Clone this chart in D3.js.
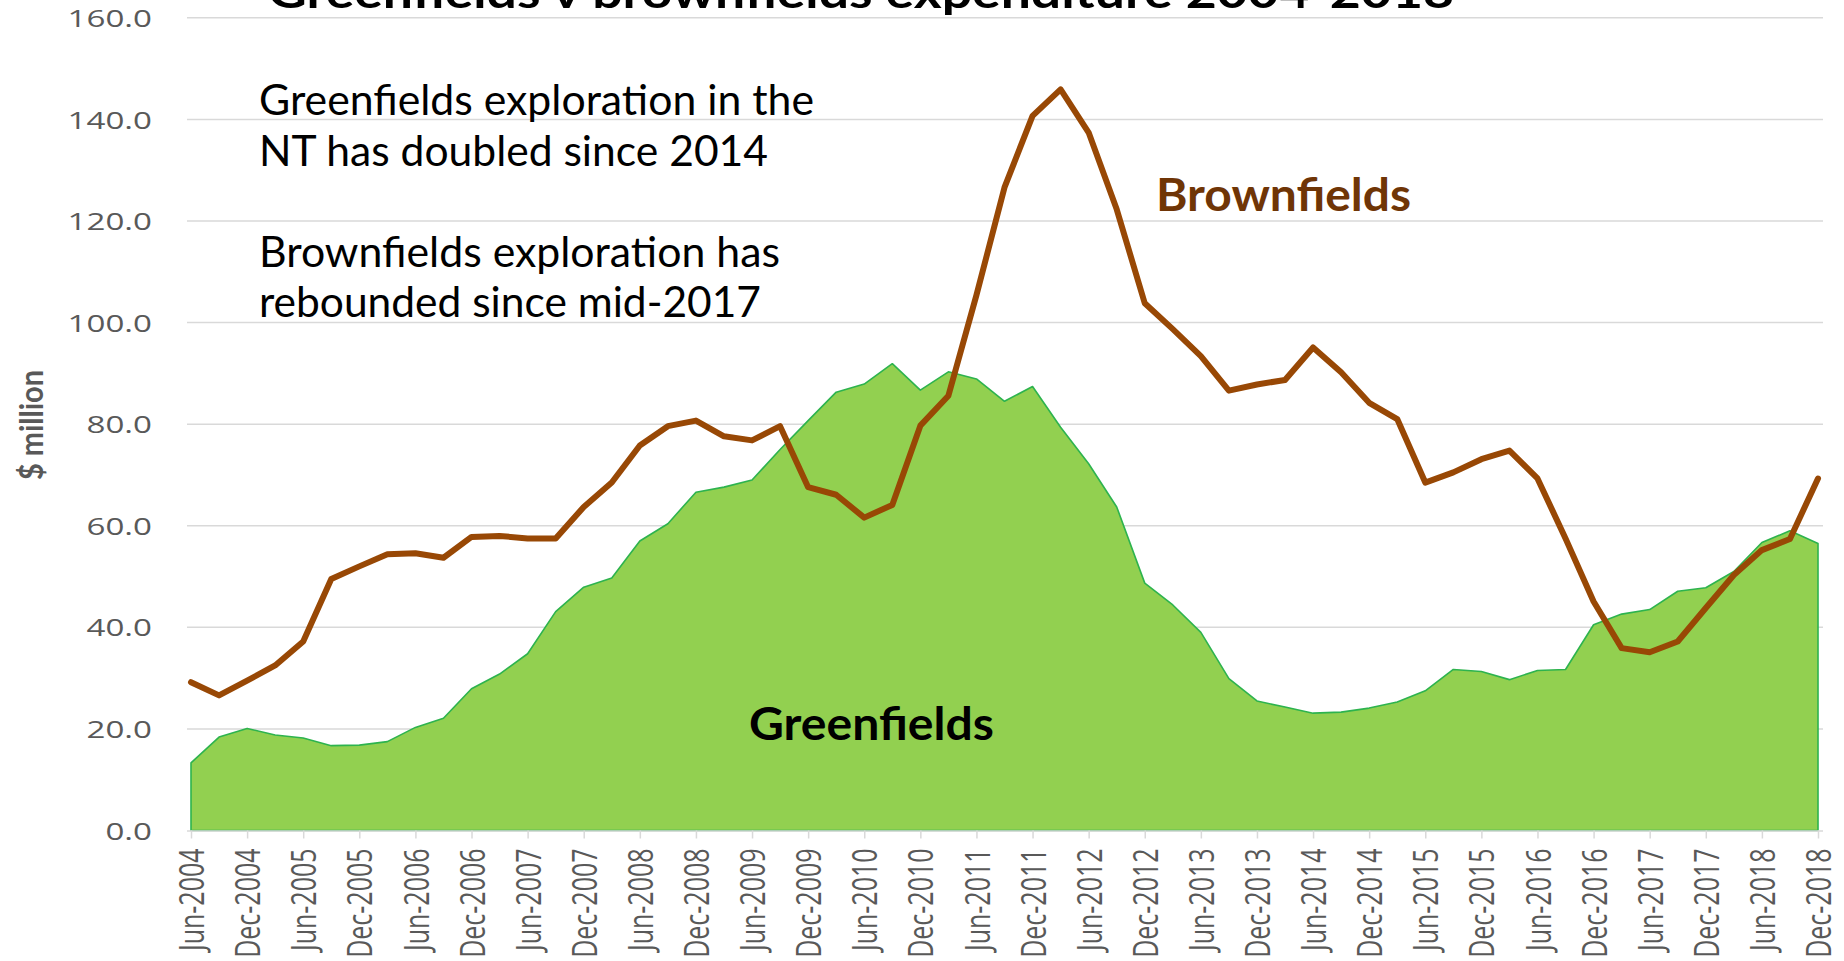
<!DOCTYPE html>
<html>
<head>
<meta charset="utf-8">
<script src="https://cdn.jsdelivr.net/npm/d3@7"></script>
<style>
  html, body { margin: 0; padding: 0; background: #ffffff; }
  svg { display: block; }
</style>
</head>
<body>
<script>
// ---------------- DATA ----------------
const quarters = ["Jun-2004","Sep-2004","Dec-2004","Mar-2005","Jun-2005","Sep-2005","Dec-2005","Mar-2006","Jun-2006","Sep-2006","Dec-2006","Mar-2007","Jun-2007","Sep-2007","Dec-2007","Mar-2008","Jun-2008","Sep-2008","Dec-2008","Mar-2009","Jun-2009","Sep-2009","Dec-2009","Mar-2010","Jun-2010","Sep-2010","Dec-2010","Mar-2011","Jun-2011","Sep-2011","Dec-2011","Mar-2012","Jun-2012","Sep-2012","Dec-2012","Mar-2013","Jun-2013","Sep-2013","Dec-2013","Mar-2014","Jun-2014","Sep-2014","Dec-2014","Mar-2015","Jun-2015","Sep-2015","Dec-2015","Mar-2016","Jun-2016","Sep-2016","Dec-2016","Mar-2017","Jun-2017","Sep-2017","Dec-2017","Mar-2018","Jun-2018","Sep-2018","Dec-2018"];

const greenfields = [13.3,18.4,20.1,18.8,18.2,16.7,16.8,17.5,20.3,22.1,27.9,30.8,34.8,43.1,47.9,49.7,57.0,60.4,66.6,67.6,69.0,75.0,80.7,86.3,87.9,91.9,86.7,90.3,88.9,84.5,87.4,79.4,72.2,63.7,48.7,44.4,39.0,29.9,25.5,24.3,23.1,23.3,24.1,25.3,27.5,31.7,31.3,29.7,31.5,31.7,40.5,42.6,43.5,47.1,47.8,51.0,56.7,59.0,56.5];

const brownfields = [29.2,26.6,29.5,32.5,37.2,49.5,52.0,54.4,54.6,53.7,57.8,58.0,57.5,57.5,63.7,68.5,75.8,79.6,80.7,77.6,76.8,79.6,67.6,66.1,61.6,64.1,79.7,85.6,105.4,126.6,140.7,145.9,137.4,122.3,103.8,98.7,93.4,86.6,87.8,88.7,95.1,90.2,84.2,81.0,68.5,70.5,73.1,74.8,69.3,57.5,45.1,35.9,35.1,37.2,43.8,50.3,55.2,57.4,69.3];

const xTickLabels = ["Jun-2004","Dec-2004","Jun-2005","Dec-2005","Jun-2006","Dec-2006","Jun-2007","Dec-2007","Jun-2008","Dec-2008","Jun-2009","Dec-2009","Jun-2010","Dec-2010","Jun-2011","Dec-2011","Jun-2012","Dec-2012","Jun-2013","Dec-2013","Jun-2014","Dec-2014","Jun-2015","Dec-2015","Jun-2016","Dec-2016","Jun-2017","Dec-2017","Jun-2018","Dec-2018"];

const yTicks = [0, 20, 40, 60, 80, 100, 120, 140, 160];

const titleText = "Greenfields v brownfields expenditure 2004-2018";
const yAxisTitle = "$ million";
const noteLines = ["Greenfields exploration in the", "NT has doubled since 2014", "Brownfields exploration has", "rebounded since mid-2017"];
const seriesLabels = ["Greenfields", "Brownfields"];

// ---------------- LAYOUT ----------------
const W = 1844, H = 961;
const gridLeft = 187, gridRight = 1823;

const svg = d3.select("body").append("svg")
  .attr("width", W).attr("height", H)
  .style("background", "#ffffff");

const x = d3.scalePoint().domain(quarters).range([191, 1818]);
const y = d3.scaleLinear().domain([0, 160]).range([830.5, 17.8]);

// gridlines
svg.append("g").selectAll("line")
  .data(yTicks.filter(d => d > 0))
  .join("line")
  .attr("x1", gridLeft).attr("x2", gridRight)
  .attr("y1", d => y(d)).attr("y2", d => y(d))
  .attr("stroke", "#d9d9d9").attr("stroke-width", 1.5);

// title (partially cut off at the top, as in the original)
svg.append("text")
  .attr("x", 268).attr("y", 8)
  .attr("textLength", 1186).attr("lengthAdjust", "spacingAndGlyphs")
  .style("font-family", "Lato, 'Open Sans', sans-serif")
  .style("font-weight", "700").style("font-size", "44px")
  .attr("fill", "#000")
  .text(titleText);

// greenfields area
const area = d3.area()
  .x((d, i) => x(quarters[i]))
  .y0(y(0))
  .y1(d => y(d));
svg.append("path")
  .datum(greenfields)
  .attr("d", area)
  .attr("fill", "#92d050")
  .attr("stroke", "#2db34e")
  .attr("stroke-width", 1.6)
  .attr("stroke-linejoin", "round");

// brownfields line
const line = d3.line()
  .x((d, i) => x(quarters[i]))
  .y(d => y(d));
svg.append("path")
  .datum(brownfields)
  .attr("d", line)
  .attr("fill", "none")
  .attr("stroke", "#984805")
  .attr("stroke-width", 6)
  .attr("stroke-linejoin", "round")
  .attr("stroke-linecap", "round");

// x axis
const gx = svg.append("g").attr("transform", `translate(0,${y(0)})`)
  .call(d3.axisBottom(x).tickValues(xTickLabels).tickSize(8).tickSizeOuter(0));
gx.select(".domain").attr("stroke", "#d9d9d9").attr("stroke-width", 1.5)
  .attr("d", `M${gridLeft},0.5H${gridRight}`);
gx.selectAll(".tick line").attr("stroke", "#d9d9d9").attr("stroke-width", 1.5);
gx.selectAll(".tick text")
  .attr("x", -18).attr("y", 0).attr("dy", "0.36em")
  .attr("text-anchor", "end")
  .attr("transform", "rotate(-90) scale(1,1.4)")
  .attr("fill", "#595959")
  .style("font-family", "'Open Sans', sans-serif")
  .style("font-size", "25px");

// y axis
const gy = svg.append("g").attr("transform", `translate(${gridLeft},0)`)
  .call(d3.axisLeft(y).tickValues(yTicks).tickSize(0).tickFormat(d3.format(".1f")));
gy.select(".domain").remove();
gy.selectAll(".tick text")
  .attr("x", 0).attr("dy", "0.36em")
  .attr("text-anchor", "end")
  .attr("transform", "translate(-35,0) scale(1.38,1)")
  .attr("fill", "#595959")
  .style("font-family", "'Open Sans', sans-serif")
  .style("font-size", "24px");

// y axis title
svg.append("text")
  .attr("transform", "translate(32,425) rotate(-90) scale(1,1.35)")
  .attr("text-anchor", "middle").attr("dy", "0.35em")
  .attr("textLength", 110).attr("lengthAdjust", "spacingAndGlyphs")
  .attr("fill", "#595959")
  .style("font-family", "Lato, sans-serif")
  .style("font-weight", "700").style("font-size", "24px")
  .text(yAxisTitle);

// annotation text
const noteY = [115, 166, 267, 317];
const noteLen = [555, 509, 521, 502];
svg.append("g").selectAll("text")
  .data(noteLines)
  .join("text")
  .attr("x", 259)
  .attr("y", (d, i) => noteY[i])
  .attr("textLength", (d, i) => noteLen[i])
  .attr("lengthAdjust", "spacingAndGlyphs")
  .attr("fill", "#000")
  .style("font-family", "Lato, sans-serif")
  .style("font-size", "42px")
  .text(d => d);

// series labels
svg.append("text")
  .attr("x", 749).attr("y", 740)
  .attr("textLength", 245).attr("lengthAdjust", "spacingAndGlyphs")
  .attr("fill", "#000")
  .style("font-family", "Lato, sans-serif")
  .style("font-weight", "700").style("font-size", "46px")
  .text(seriesLabels[0]);

svg.append("text")
  .attr("x", 1156).attr("y", 211)
  .attr("textLength", 255).attr("lengthAdjust", "spacingAndGlyphs")
  .attr("fill", "#6f3506")
  .style("font-family", "Lato, sans-serif")
  .style("font-weight", "700").style("font-size", "46px")
  .text(seriesLabels[1]);
</script>
</body>
</html>
